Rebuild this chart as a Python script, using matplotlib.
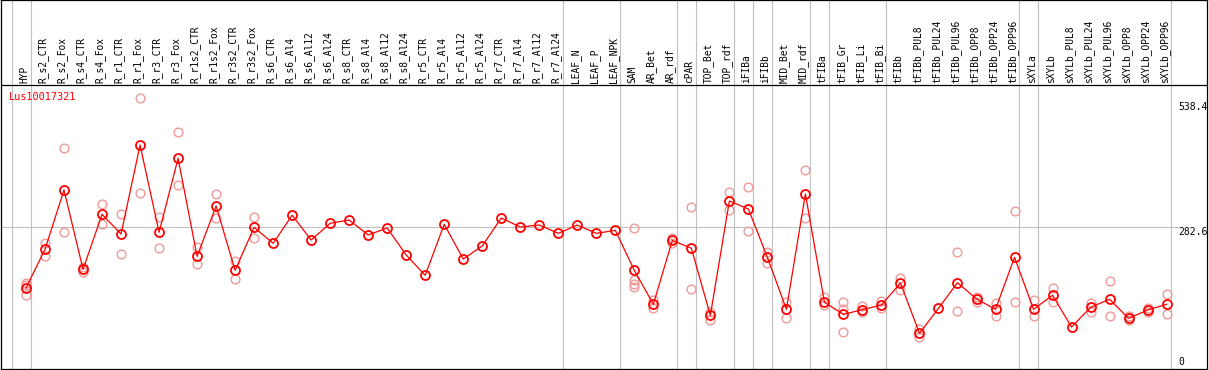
import matplotlib
matplotlib.use("Agg")
import matplotlib.pyplot as plt

labels = ["HYP", "R_s2_CTR", "R_s2_Fox", "R_s4_CTR", "R_s4_Fox", "R_r1_CTR", "R_r1_Fox",
          "R_r3_CTR", "R_r3_Fox", "R_r1s2_CTR", "R_r1s2_Fox", "R_r3s2_CTR", "R_r3s2_Fox",
          "R_s6_CTR", "R_s6_Al4", "R_s6_Al12", "R_s6_Al24", "R_s8_CTR", "R_s8_Al4",
          "R_s8_Al12", "R_s8_Al24", "R_r5_CTR", "R_r5_Al4", "R_r5_Al12", "R_r5_Al24",
          "R_r7_CTR", "R_r7_Al4", "R_r7_Al12", "R_r7_Al24", "LEAF_N", "LEAF_P", "LEAF_NPK",
          "SAM", "AR_Bet", "AR_rdf", "cPAR", "TOP_Bet", "TOP_rdf", "iFIBa", "iFIBb",
          "MID_Bet", "MID_rdf", "tFIBa", "tFIB_Gr", "tFIB_Li", "tFIB_Bi", "tFIBb",
          "tFIBb_PUL8", "tFIBb_PUL24", "tFIBb_PUL96", "tFIBb_OPP8", "tFIBb_OPP24",
          "tFIBb_OPP96", "sXYLa", "sXYLb", "sXYLb_PUL8", "sXYLb_PUL24", "sXYLb_PUL96",
          "sXYLb_OPP8", "sXYLb_OPP24", "sXYLb_OPP96"]

means = [161.5, 238.6, 357, 198.7, 308.4, 269, 446.7, 272.6, 420, 224.7, 325, 196.8, 282.5,
         250.6, 306.5, 257.2, 290.5, 297.1, 267.2, 281.2, 227.3, 186.8, 288.5, 219.3, 245.3,
         301.1, 283.1, 287.1, 270.5, 287.1, 270.5, 276.5, 196.8, 129, 256.6, 240.7, 107,
         335, 319, 222.7, 119, 349, 133, 109, 118.3, 127.6, 171.5, 71.1, 121, 172.1, 139.6,
         119, 222.7, 119, 147, 83.7, 123, 139, 101, 117.6, 129]

replicates = [
    [171, 167, 147], [250.6, 226], [440, 272.6], [204, 194], [328.4, 288.5],
    [308.4, 229.3], [539.8, 350.3], [302.5, 240.7], [472, 366], [243.3, 209.4],
    [348.3, 300.5], [214.7, 178.9], [303, 260.6],
    [], [], [], [], [], [], [], [], [], [], [], [], [], [], [], [], [], [], [],
    [281.2, 176.9, 168.9, 164.2], [137.6, 121], [261.8, 251.9], [322.4, 158.9],
    [114.3, 97.7], [352.3, 316.4], [362.3, 274.6], [233.3, 212], [133.6, 102.3],
    [396.2, 300.5], [144.2, 127.6], [133.6, 74.4, 119], [125.6, 113], [136.2, 121],
    [180.8, 157.5], [79.1, 64.5], [], [232.7, 115.7], [144.2, 133], [131.6, 106.3],
    [314.4, 133], [137, 106.3], [161.5, 133], [], [132.3, 114.3], [174.9, 105],
    [105.7, 97.7], [121, 114], [149, 109]]

group_ends = [-1, 0, 28, 31, 34, 35, 37, 38, 39, 41, 42, 45, 52, 53, 60]
ymax_value = 538.4
ref_value = 282.6
title = "Lus10017321"

W, H = 1209, 370
fig = plt.figure(figsize=(W / 100, H / 100), dpi=100)
ax = fig.add_axes([1 / W, 1 / H, 1206 / W, 369 / H])

x0, dx = 26.0, 19.01
upp = ymax_value / 270.0
ax.set_xlim((1 - x0) / dx, (1207 - x0) / dx)
ax.set_ylim(0, 369 * upp)
ax.set_xticks([])
ax.set_yticks([])
for s in ax.spines.values():
    s.set_color("black")
    s.set_linewidth(0.9)

header_v = (369 - 85) * upp
ax.axhline(header_v, color="black", lw=0.9)

for g in group_ends:
    ax.axvline(g + 4.7 / dx, color="#c0c0c0", lw=0.8, zorder=0)
ax.plot([ax.get_xlim()[0], (1178 - x0) / dx], [ref_value, ref_value],
        color="#c0c0c0", lw=0.8, zorder=0)

xs = list(range(len(labels)))
mono = "DejaVu Sans Mono"
for i, lab in enumerate(labels):
    ax.text(i - 0.1, (369 - 83) * upp, lab, rotation=90, ha="center", va="bottom",
            fontsize=6.9, family=mono, color="black")

for i, reps in enumerate(replicates):
    if reps:
        ax.plot([i] * len(reps), reps, linestyle="none", marker="o", ms=6.3,
                mfc="none", mec="#ee9a9a", mew=1.0, zorder=2)

ax.plot(xs, means, color="red", lw=0.9, zorder=3)
ax.plot(xs, means, linestyle="none", marker="o", ms=6.5, mfc="none", mec="red",
        mew=1.3, zorder=4)

ax.text((9.3 - x0) / dx, (369 - 96.5) * upp, title, color="red", ha="left",
        va="center", fontsize=7.4, family=mono)

lx = (1178 - x0) / dx
ax.text(lx, (369 - 106.7) * upp, f"{ymax_value}", ha="left", va="center",
        fontsize=7.0, family=mono)
ax.text(lx, (369 - 232) * upp, f"{ref_value}", ha="left", va="center",
        fontsize=7.0, family=mono)
ax.text(lx, (369 - 361.7) * upp, "0", ha="left", va="center", fontsize=7.0, family=mono)

fig.savefig("out.png", dpi=100, facecolor="white")
